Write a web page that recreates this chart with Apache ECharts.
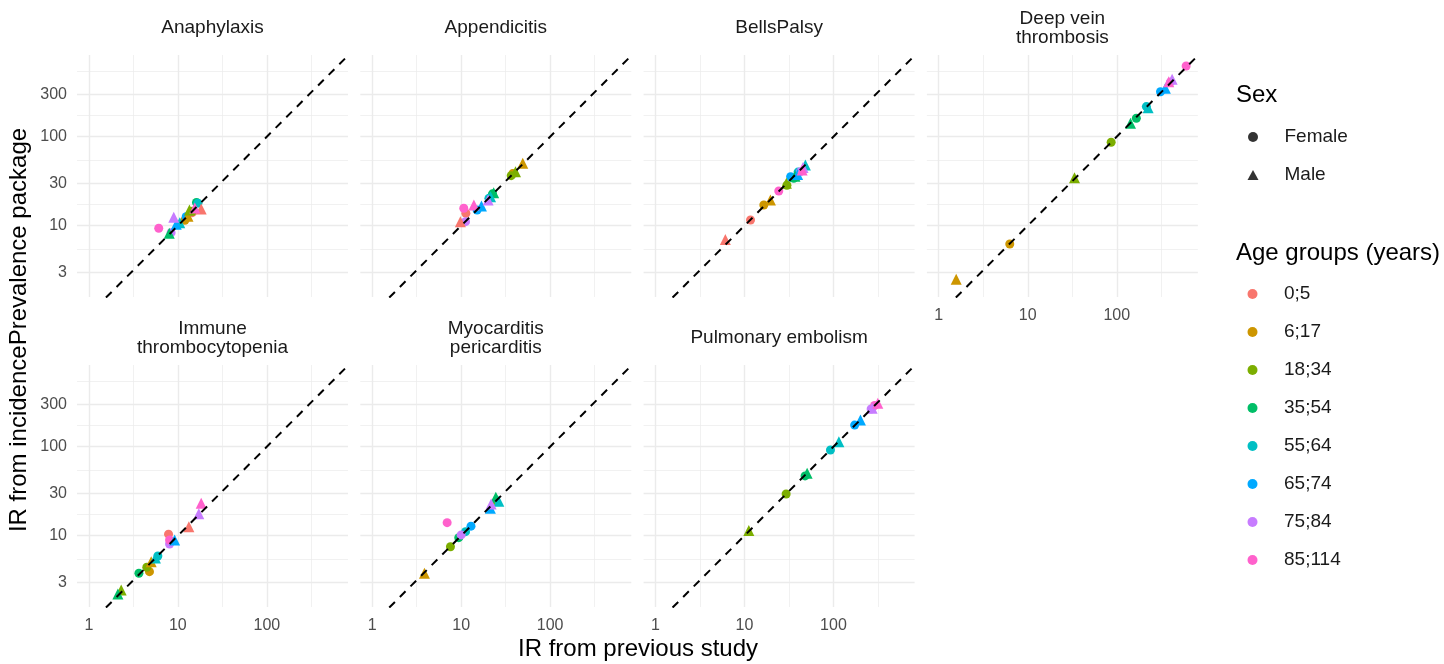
<!DOCTYPE html>
<html>
<head>
<meta charset="utf-8">
<script src="https://cdn.jsdelivr.net/npm/echarts@6/dist/echarts.min.js"></script>
<style>
html, body { margin: 0; padding: 0; background: #fff; }
#chart { width: 1444px; height: 664px; }
</style>
</head>
<body>
<div id="chart"></div>
<script>
var ageGroups = ['0;5', '6;17', '18;34', '35;54', '55;64', '65;74', '75;84', '85;114'];
var ageColors = ['#F8766D', '#CD9600', '#7CAE00', '#00BE67', '#00BFC4', '#00A9FF', '#C77CFF', '#FF61CC'];
var outcomes = ['Anaphylaxis', 'Appendicitis', 'BellsPalsy', 'Deep vein\nthrombosis',
    'Immune\nthrombocytopenia', 'Myocarditis\npericarditis', 'Pulmonary embolism'];

// [IR from previous study, IR from incidencePrevalence], one entry per age group
var anaphylaxisFemale = [[14.5, 14], [12, 11.5], [14.5, 14.5], [16.2, 18.2], [16.8, 17.9], [12.4, 12.6], [8.4, 8.35], [6.1, 9.35]];
var anaphylaxisMale = [[18.3, 15.4], [13, 12.8], [13.5, 15], [8, 8.2], [10.5, 10.8], [9.6, 10.4], [9, 12.4], [15.5, 15.8]];
var appendicitisFemale = [[11.3, 13.8], [38, 38.5], [36.5, 36.5], [22.5, 22.8], [20.5, 20.3], [15.1, 15], [11.2, 11.1], [10.7, 15.7]];
var appendicitisMale = [[9.8, 11.1], [49.2, 50.2], [40.8, 40.4], [23.2, 23.5], [21.4, 21.2], [16.9, 16.6], [20.1, 19.5], [13.9, 17.1]];
var bellsFemale = [[11.7, 11.6], [16.5, 17.1], [30, 28.5], [35.8, 34.1], [40, 40], [33, 35.5], [42.6, 40.5], [24.3, 24.5]];
var bellsMale = [[6.1, 7.0], [19.6, 19.5], [29.6, 29.9], [37, 36], [48.4, 48.1], [39.6, 37.5], [45.5, 45], [44.5, 42.3]];
var dvtFemale = [null, [6.28, 6.22], [86.5, 86.5], [166, 161], [215, 218], [310, 320], [400, 410], [602, 622]];
var dvtMale = [null, [1.57, 2.5], [33.5, 34.6], [142.6, 141.6], [225, 212], [352, 350], [419, 441], [384, 415]];
var itpFemale = [[7.86, 10.4], [4.8, 3.94], [4.48, 4.42], [3.65, 3.78], [5.96, 5.92], [8.3, 8.6], [8.07, 8.07], [8.07, 8.95]];
var itpMale = [[13.3, 12.6], [5.02, 5.1], [2.31, 2.45], [2.12, 2.21], [5.6, 5.6], [9.2, 8.95], [17.2, 17.6], [18.3, 23.1]];
var myoFemale = [null, null, [7.58, 7.52], [9.4, 9.5], [11.2, 11.1], [12.9, 12.8], [10, 10.2], [6.96, 14.0]];
var myoMale = [null, [3.87, 3.78], [24.9, 25.6], [24.5, 27], [26.5, 24.3], [21.3, 20.3], [21.7, 22.7], null];
var peFemale = [null, null, [29.4, 29.4], [48, 47], [92.5, 91.9], [173, 175], [265, 265], [290, 290]];
var peMale = [null, null, [11.2, 11.4], [50.6, 50.2], [115, 114], [201, 200], [272, 270], [315, 307]];

var femaleData = [anaphylaxisFemale, appendicitisFemale, bellsFemale, dvtFemale, itpFemale, myoFemale, peFemale];
var maleData = [anaphylaxisMale, appendicitisMale, bellsMale, dvtMale, itpMale, myoMale, peMale];

var xTicks = [1, 10, 100];
var xMinorTicks = [3.162, 31.62, 316.2];
var yTicks = [3, 10, 30, 100, 300];
var yMinorTicks = [5.477, 17.32, 54.77, 173.2, 547.7];
var identityLine = [[0.3, 0.3], [3000, 3000]];

var XMIN = 0.736, XMAX = 816, YMIN = 1.58, YMAX = 828;
var panelLeft = [77, 360.3, 643.6, 926.9];
var panelTop = [55, 365];
var panelW = 271, panelH = 242;
var FONT = '"Liberation Sans", Arial, sans-serif';

var chart = echarts.init(document.getElementById('chart'), null, { renderer: 'canvas' });

var grids = [], xAxes = [], yAxes = [], series = [], texts = [];

function makeAxis(p, ticks, minor, showLabel, isX) {
    return {
        type: 'log',
        logBase: 10,
        gridIndex: p,
        min: isX ? XMIN : YMIN,
        max: isX ? XMAX : YMAX,
        position: isX ? 'bottom' : 'left',
        axisLine: { show: false },
        axisTick: { show: false, customValues: ticks },
        minorTick: { show: false },
        minorSplitLine: { show: false },
        axisLabel: {
            show: showLabel && !minor,
            customValues: ticks,
            color: '#4D4D4D',
            fontSize: 16,
            fontFamily: FONT,
            margin: isX ? 11 : 10,
            formatter: function (v) { return String(v); }
        },
        splitLine: { show: true, lineStyle: { color: '#EBEBEB', width: minor ? 0.7 : 1.4 } }
    };
}

for (var p = 0; p < outcomes.length; p++) {
    var col = p % 4, row = Math.floor(p / 4);
    var showX = row === 1 || p === 3;
    var showY = col === 0;
    grids.push({ left: panelLeft[col], top: panelTop[row], width: panelW, height: panelH });

    xAxes.push(makeAxis(p, xTicks, false, showX, true));
    xAxes.push(makeAxis(p, xMinorTicks, true, false, true));
    yAxes.push(makeAxis(p, yTicks, false, showY, false));
    yAxes.push(makeAxis(p, yMinorTicks, true, false, false));

    for (var i = 0; i < ageGroups.length; i++) {
        if (femaleData[p][i]) {
            series.push({
                name: ageGroups[i], type: 'scatter', xAxisIndex: 2 * p, yAxisIndex: 2 * p,
                symbol: 'circle', symbolSize: 9, itemStyle: { color: ageColors[i], opacity: 1 },
                data: [femaleData[p][i]], z: 2
            });
        }
    }
    for (var j = 0; j < ageGroups.length; j++) {
        if (maleData[p][j]) {
            series.push({
                name: ageGroups[j], type: 'scatter', xAxisIndex: 2 * p, yAxisIndex: 2 * p,
                symbol: 'triangle', symbolSize: 11, itemStyle: { color: ageColors[j], opacity: 1 },
                data: [maleData[p][j]], z: 2
            });
        }
    }
    series.push({
        type: 'line', xAxisIndex: 2 * p, yAxisIndex: 2 * p, data: identityLine,
        symbol: 'none', silent: true, clip: true, z: 5,
        lineStyle: { color: '#000', width: 2, type: [8, 7] }
    });

    texts.push({
        type: 'text', x: panelLeft[col] + panelW / 2, y: panelTop[row] - 27,
        style: { text: outcomes[p], fill: '#1A1A1A', font: '19px ' + FONT, align: 'center', verticalAlign: 'middle', lineHeight: 19 }
    });
}

// dummy series that carry the shape legend
series.push({ name: 'Female', type: 'scatter', xAxisIndex: 0, yAxisIndex: 0, symbol: 'circle', itemStyle: { color: '#000' }, data: [] });
series.push({ name: 'Male', type: 'scatter', xAxisIndex: 0, yAxisIndex: 0, symbol: 'triangle', itemStyle: { color: '#000' }, data: [] });

texts.push({
    type: 'text', x: 638, y: 649,
    style: { text: 'IR from previous study', fill: '#000', font: '24px ' + FONT, align: 'center', verticalAlign: 'middle' }
});
texts.push({
    type: 'text', x: 19, y: 330, rotation: Math.PI / 2,
    style: { text: 'IR from incidencePrevalence package', fill: '#000', font: '24px ' + FONT, align: 'center', verticalAlign: 'middle' }
});
texts.push({
    type: 'text', x: 1236, y: 95,
    style: { text: 'Sex', fill: '#000', font: '24px ' + FONT, align: 'left', verticalAlign: 'middle' }
});
texts.push({
    type: 'text', x: 1236, y: 253,
    style: { text: 'Age groups (years)', fill: '#000', font: '24px ' + FONT, align: 'left', verticalAlign: 'middle' }
});

var legendBase = {
    orient: 'vertical', itemWidth: 11, itemHeight: 10, itemGap: 16, padding: 0,
    selectedMode: false, left: 1247.5,
    textStyle: { fontSize: 19, color: '#1A1A1A', fontFamily: FONT, lineHeight: 22, padding: [0, 0, 0, 21] }
};

var option = {
    animation: false,
    backgroundColor: '#fff',
    textStyle: { fontFamily: FONT },
    grid: grids,
    xAxis: xAxes,
    yAxis: yAxes,
    legend: [
        Object.assign({}, legendBase, {
            top: 126,
            data: [{ name: 'Female', icon: 'circle' }, { name: 'Male', icon: 'triangle' }]
        }),
        Object.assign({}, legendBase, {
            top: 283,
            data: ageGroups.map(function (a) { return { name: a, icon: 'circle' }; })
        })
    ],
    graphic: texts,
    series: series
};

chart.setOption(option);
</script>
</body>
</html>
